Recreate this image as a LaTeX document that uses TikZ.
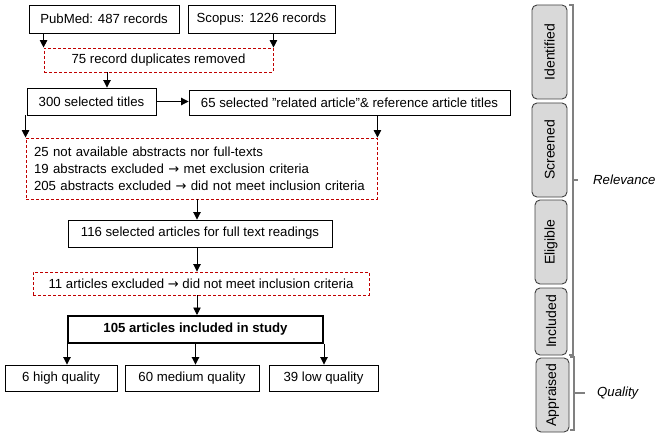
\documentclass[tikz,border=0pt]{standalone}
\usepackage{fontspec}
\setmainfont{Liberation Sans}
\newfontfamily\djv{DejaVu Sans}
\usetikzlibrary{arrows.meta,calc}
\newcommand{\ar}{{\djv\fontsize{13}{15}\selectfont →}}
\definecolor{dashred}{RGB}{192,0,0}
\definecolor{greyfill}{RGB}{217,217,217}
\definecolor{bracegrey}{RGB}{128,128,128}
\begin{document}
\begin{tikzpicture}[x=1pt,y=-1pt,
  every node/.style={font=\fontsize{13.2}{17}\selectfont, inner sep=0pt},
  box/.style={draw=black, line width=0.9pt, minimum height=#1},
  box/.default=27,
  redbox/.style={draw=dashred, line width=0.9pt, dash pattern=on 3pt off 2pt},
  thickbox/.style={draw=black, line width=2pt, minimum height=27, font=\fontsize{13.2}{17}\selectfont\bfseries},
  stage/.style={draw=black!75, fill=greyfill, line width=0.9pt, rounded corners=5pt, rotate=90, font=\fontsize{14}{17}\selectfont},
  arr/.style={-{Triangle[length=7.5pt,width=7.5pt]}, line width=0.9pt},
  brace/.style={draw=bracegrey, line width=1.2pt},
]
\useasboundingbox (0,0) rectangle (663,441);
% left flow
\node[box=28, minimum width=150] (pub) at (104,19) {PubMed: 487 records};
\node[box=28, minimum width=147] (sco) at (261.5,19) {Scopus: 1226 records};
\node[redbox, minimum width=229, minimum height=24] (dup) at (158.5,60) {75 record duplicates removed};
\node[box=27, minimum width=129] (t300) at (91.5,101.5) {300 selected titles};
\node[box=25, minimum width=321] (t65) at (349.5,102.5) {65 selected "related article"\& reference article titles};
\node[redbox, minimum width=351, minimum height=61, text width=335, align=left, font=\fontsize{13.2}{17}\selectfont] (abs) at (201.5,168.5)
  {25 not available abstracts nor full-texts\\19 abstracts excluded \ar{} met exclusion criteria\\205 abstracts excluded \ar{} did not meet inclusion criteria};
\node[box=27, minimum width=264] (a116) at (200,233.5) {116 selected articles for full text readings};
\node[redbox, minimum width=336, minimum height=23] (ex11) at (201,283.5) {11 articles excluded \ar{} did not meet inclusion criteria};
\node[thickbox, minimum width=255] (inc) at (195.5,329.5) {105 articles included in study};
\node[box=26, minimum width=112] (q6) at (61,378) {6 high quality};
\node[box=26, minimum width=134] (q60) at (192,378) {60 medium quality};
\node[box=26, minimum width=109] (q39) at (323.5,378) {39 low quality};
% connectors
\draw[arr] (pub.south -| dup.west) -- (dup.north west);
\draw[arr] (sco.south -| dup.east) -- (dup.north east);
\draw[arr] ($(dup.south)+(-51.5,0)$) -- ($(dup.south |- t300.north)+(-51.5,0)$);
\draw[arr] (t300.east) -- (t65.west |- t300.east);
\draw[arr] (t300.south -| abs.west) -- (abs.north west);
\draw[arr] (t65.south -| abs.east) -- (abs.north east);
\coordinate (col) at (197,0);
\draw[arr] (abs.south -| col) -- (a116.north -| col);
\draw[arr] (a116.south -| col) -- (ex11.north -| col);
\draw[arr] (ex11.south -| col) -- (inc.north -| col);
\draw[arr] (inc.south west) -- (inc.south west |- q6.north);
\draw[arr] (inc.south) -- (inc.south |- q60.north);
\draw[arr] (inc.south east) -- (inc.south east |- q39.north);
% stages
\node[stage, minimum width=94, minimum height=35] (s1) at (549.5,52) {Identified};
\node[stage, minimum width=94, minimum height=35] (s2) at (549.5,150) {Screened};
\node[stage, minimum width=84, minimum height=32] (s3) at (551,242) {Eligible};
\node[stage, minimum width=67, minimum height=32] (s4) at (551,321.5) {Included};
\node[stage, minimum width=74, minimum height=33] (s5) at (552.5,395) {Appraised};
% braces
\coordinate (b1t) at (569,5);
\coordinate (b1b) at (569,355);
\draw[brace] (b1t) -- ++(4,0) -- ++(0,350) -- (b1b);
\coordinate (b1m) at (573,180);
\draw[brace] (b1m) -- ++(5,0);
\node[anchor=west, font=\fontsize{13.2}{17}\selectfont\itshape] (rel) at (593,180) {Relevance};
\coordinate (b2t) at (570,357);
\coordinate (b2b) at (570,430);
\draw[brace] (b2t) -- ++(4,0) -- ++(0,73) -- (b2b);
\coordinate (b2m) at (574,393);
\draw[brace] (b2m) -- ++(11,0);
\node[anchor=west, font=\fontsize{13.2}{17}\selectfont\itshape] (qual) at (597,393) {Quality};
\end{tikzpicture}
\end{document}
